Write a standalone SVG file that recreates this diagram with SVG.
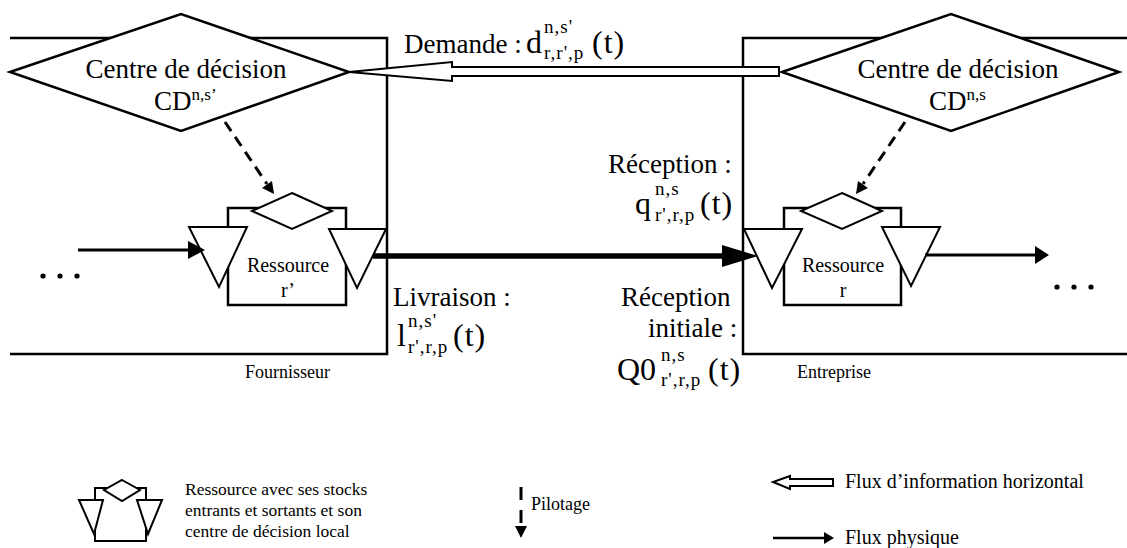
<svg xmlns="http://www.w3.org/2000/svg" width="1127" height="548" viewBox="0 0 1127 548">
<style>
.ln{fill:none;stroke:#000;stroke-width:2.5}
.sh{fill:#fff;stroke:#000;stroke-width:2.5}
.sm{fill:#fff;stroke:#000;stroke-width:2}
.t{font-family:"Liberation Serif","Times New Roman",serif;fill:#000}
.big{font-size:27px}
.m{font-size:32px}
.s{font-size:19px;letter-spacing:1px}
.sup{font-size:17px}
.dash{fill:none;stroke:#000;stroke-width:3;stroke-dasharray:11 7}
</style>
<defs>
<marker id="ah" viewBox="0 0 10 10" refX="10" refY="5" markerWidth="14" markerHeight="14" markerUnits="userSpaceOnUse" orient="auto">
<path d="M0,0 L10,5 L0,10 z" fill="#000"/>
</marker>
</defs>

<g id="box-fournisseur">
<path class="ln" d="M10,38 H387 V354 H10"/>
<text class="t" x="245" y="378" style="font-size:18px">Fournisseur</text>
</g>
<g id="box-entreprise">
<path class="ln" d="M1127,38 H743 V354 H1127"/>
<text class="t" x="797" y="378" style="font-size:18px">Entreprise</text>
</g>

<g id="cd-fournisseur">
<polygon class="sh" points="10,72 181,14 349,72 181,131"/>
<text class="t big" x="186" y="78" text-anchor="middle">Centre de décision</text>
<text class="t big" x="154" y="110">CD<tspan class="sup" dy="-10">n,s’</tspan></text>
</g>
<g id="cd-entreprise">
<polygon class="sh" points="782,72 951,14 1119,72 951,131"/>
<text class="t big" x="958" y="78" text-anchor="middle">Centre de décision</text>
<text class="t big" x="929" y="110">CD<tspan class="sup" dy="-10">n,s</tspan></text>
</g>

<g id="ressource-rp">
<rect class="sh" x="228" y="208" width="118" height="97"/>
<polygon class="sm" points="292,193 332,211 292,229 252,211"/>
<polygon class="sm" points="189,227 247,227 219,287"/>
<polygon class="sm" points="329,229 386,229 357,288"/>
<text class="t" x="288" y="272" text-anchor="middle" style="font-size:20px">Ressource</text>
<text class="t" x="288" y="297" text-anchor="middle" style="font-size:20px">r’</text>
</g>
<g id="ressource-r">
<rect class="sh" x="784" y="208" width="117" height="97"/>
<polygon class="sm" points="842,193 882,211 842,229 801,211"/>
<polygon class="sm" points="744,229 802,229 772,288"/>
<polygon class="sm" points="882,227 940,227 911,286"/>
<text class="t" x="843" y="272" text-anchor="middle" style="font-size:20px">Ressource</text>
<text class="t" x="843" y="297" text-anchor="middle" style="font-size:20px">r</text>
</g>

<g id="connectors">
<path class="dash" d="M225,122 L267,184"/>
<polygon points="262,188 274,194 272,181" fill="#000"/>
<path class="dash" d="M905,122 L863,184"/>
<polygon points="858,181 856,194 868,188" fill="#000"/>
<polygon class="sm" points="779,67 452,67 452,62 349,72 452,81 452,76 779,76"/>
<line x1="78" y1="250" x2="190" y2="250" stroke="#000" stroke-width="3"/>
<polygon points="188,241 205,250 188,259" fill="#000"/>
<line x1="373" y1="256" x2="725" y2="256" stroke="#000" stroke-width="5.5"/>
<polygon points="722,245 758,256 722,267" fill="#000"/>
<line x1="925" y1="255" x2="1037" y2="255" stroke="#000" stroke-width="3"/>
<polygon points="1035,246 1049,255 1035,264" fill="#000"/>
</g>

<g id="dots">
<circle cx="43" cy="276" r="2.6"/><circle cx="60" cy="276" r="2.6"/><circle cx="77" cy="276" r="2.6"/>
<circle cx="1057" cy="287" r="2.6"/><circle cx="1074" cy="287" r="2.6"/><circle cx="1091" cy="287" r="2.6"/>
</g>

<g id="labels">
<text class="t big" x="404" y="53">Demande :</text>
<text class="t m" x="526" y="53">d</text>
<text class="t s" x="544" y="33">n,s'</text>
<text class="t s" x="544" y="59">r,r',p</text>
<text class="t m" x="592" y="53" style="letter-spacing:1px">(t)</text>

<text class="t big" x="608" y="173">Réception :</text>
<text class="t m" x="635" y="214">q</text>
<text class="t s" x="655" y="195">n,s</text>
<text class="t s" x="655" y="221">r',r,p</text>
<text class="t m" x="700" y="214" style="letter-spacing:1px">(t)</text>

<text class="t big" x="393" y="306">Livraison :</text>
<text class="t m" x="397" y="346">l</text>
<text class="t s" x="408" y="327">n,s'</text>
<text class="t s" x="408" y="353">r',r,p</text>
<text class="t m" x="453" y="346" style="letter-spacing:1px">(t)</text>

<text class="t big" x="621" y="306">Réception</text>
<text class="t big" x="648" y="337">initiale :</text>
<text class="t m" x="617" y="380">Q0</text>
<text class="t s" x="661" y="361">n,s</text>
<text class="t s" x="661" y="386">r',r,p</text>
<text class="t m" x="708" y="380" style="letter-spacing:1px">(t)</text>
</g>

<g id="legend-ressource">
<path class="ln" style="stroke-width:2" d="M95,488 H146 V541 H95 Z"/>
<polygon class="sm" points="122,480 140,490 122,501 104,490"/>
<polygon class="sm" points="79,500 103,500 94,534"/>
<polygon class="sm" points="137,500 162,500 148,534"/>
<text class="t" x="185" y="495" style="font-size:17.5px">Ressource avec ses stocks</text>
<text class="t" x="185" y="516" style="font-size:17.5px">entrants et sortants et son</text>
<text class="t" x="185" y="537" style="font-size:17.5px">centre de décision local</text>
</g>
<g id="legend-pilotage">
<line x1="521" y1="487" x2="521" y2="526" stroke="#000" stroke-width="3" stroke-dasharray="13 10"/>
<polygon points="515,526 527,526 521,538" fill="#000"/>
<text class="t" x="531" y="510" style="font-size:18px">Pilotage</text>
</g>
<g id="legend-info">
<polygon class="sm" points="833,479 790,479 790,476 773,482 790,489 790,486 833,486"/>
<text class="t" x="845" y="488" style="font-size:20px">Flux d’information horizontal</text>
</g>
<g id="legend-physique">
<line x1="773" y1="538" x2="827" y2="538" stroke="#000" stroke-width="2.5"/>
<polygon points="824,532 834,538 824,544" fill="#000"/>
<text class="t" x="845" y="544" style="font-size:20px">Flux physique</text>
</g>
</svg>
